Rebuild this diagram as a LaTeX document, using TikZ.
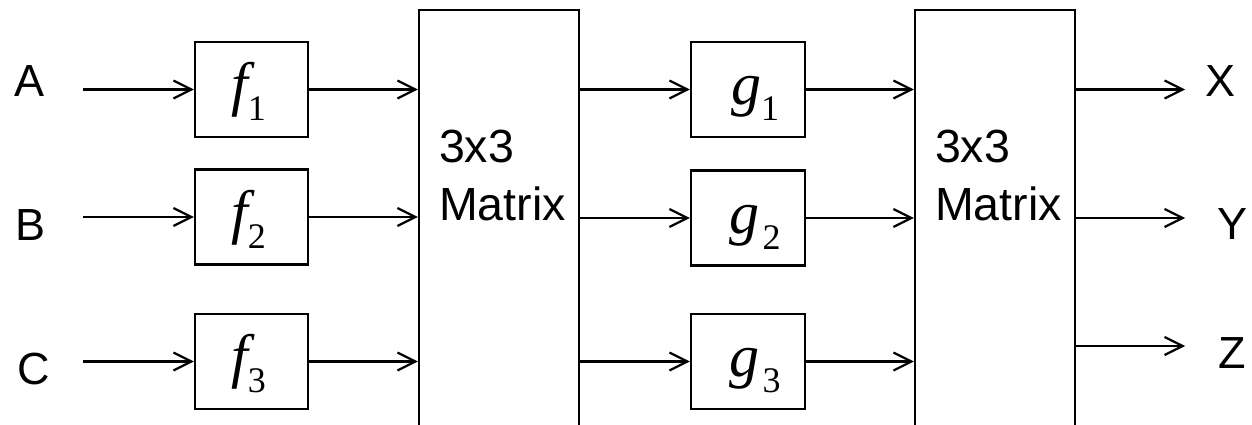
\documentclass[tikz,border=0pt]{standalone}
\usepackage{fontspec}
\setmainfont{Liberation Serif}
\newfontfamily\arialf{Liberation Sans}
\usetikzlibrary{arrows.meta}
\newcommand\fsym[2]{{\fontsize{60}{60}\selectfont\itshape #1}{\fontsize{36}{36}\selectfont\raisebox{-16pt}{#2}}}
\begin{document}
\begin{tikzpicture}[x=1pt,y=-1pt,
  line width=2.2pt,
  fbox/.style={draw, rectangle, minimum width=113pt, minimum height=95pt, inner sep=0pt, text height=40pt, text depth=10pt},
  gbox/.style={fbox, minimum width=114pt},
  mbox/.style={draw, rectangle, minimum width=160pt, minimum height=440pt, inner sep=0pt},
  lab/.style={inner sep=0pt, font=\arialf\fontsize{45}{54}\selectfont},
  mtxt/.style={inner sep=0pt, anchor=base west, font=\arialf\fontsize{46.5}{54}\selectfont},
  arr/.style={-{Straight Barb[length=18pt,width=18pt]}},
]
\useasboundingbox (0,0) rectangle (1252,425);
\clip (0,0) rectangle (1252,425);
% input labels
\node[lab] (A) at (30,81) {A};
\node[lab] (B) at (31,225) {B};
\node[lab] (C) at (34,369) {C};
\coordinate (a0) at (83,89.5);
\coordinate (b0) at (83,217);
\coordinate (c0) at (83,361.5);
% f boxes
\node[fbox] (f1) at (251.5,89.5) {\fsym{f}{1}\kern6pt};
\node[fbox] (f2) at (251.5,217) {\fsym{f}{2}\kern6pt};
\node[fbox] (f3) at (251.5,361.5) {\fsym{f}{3}\kern6pt};
% matrices
\node[mbox] (M1) at (499,230) {};
\node[mbox] (M2) at (995,230) {};
\node[mtxt] (M1a) at (438,162) {3x3};
\node[mtxt] (M1b) at (438,220) {Matrix};
\node[mtxt] (M2a) at (934,162) {3x3};
\node[mtxt] (M2b) at (934,220) {Matrix};
% g boxes
\node[gbox] (g1) at (748,89.5) {\kern14pt\fsym{g}{1}};
\node[gbox] (g2) at (748,218) {\kern14pt\fsym{g}{\kern3pt 2}};
\node[gbox] (g3) at (748,361.5) {\kern14pt\fsym{g}{\kern3pt 3}};
% outputs
\coordinate (x0) at (1185,89.5);
\coordinate (y0) at (1185,218);
\coordinate (z0) at (1185,346);
\node[lab] (X) at (1220,81) {X};
\node[lab] (Y) at (1232,224) {Y};
\node[lab] (Z) at (1232,353) {Z};
% arrows
\draw[arr] (a0) -- (f1.west);
\draw[arr] (b0) -- (f2.west);
\draw[arr] (c0) -- (f3.west);
\draw[arr] (f1.east) -- (f1.east -| M1.west);
\draw[arr] (f2.east) -- (f2.east -| M1.west);
\draw[arr] (f3.east) -- (f3.east -| M1.west);
\draw[arr] (M1.east |- g1.west) -- (g1.west);
\draw[arr] (M1.east |- g2.west) -- (g2.west);
\draw[arr] (M1.east |- g3.west) -- (g3.west);
\draw[arr] (g1.east) -- (g1.east -| M2.west);
\draw[arr] (g2.east) -- (g2.east -| M2.west);
\draw[arr] (g3.east) -- (g3.east -| M2.west);
\draw[arr] (M2.east |- x0) -- (x0);
\draw[arr] (M2.east |- y0) -- (y0);
\draw[arr] (M2.east |- z0) -- (z0);
\end{tikzpicture}
\end{document}
